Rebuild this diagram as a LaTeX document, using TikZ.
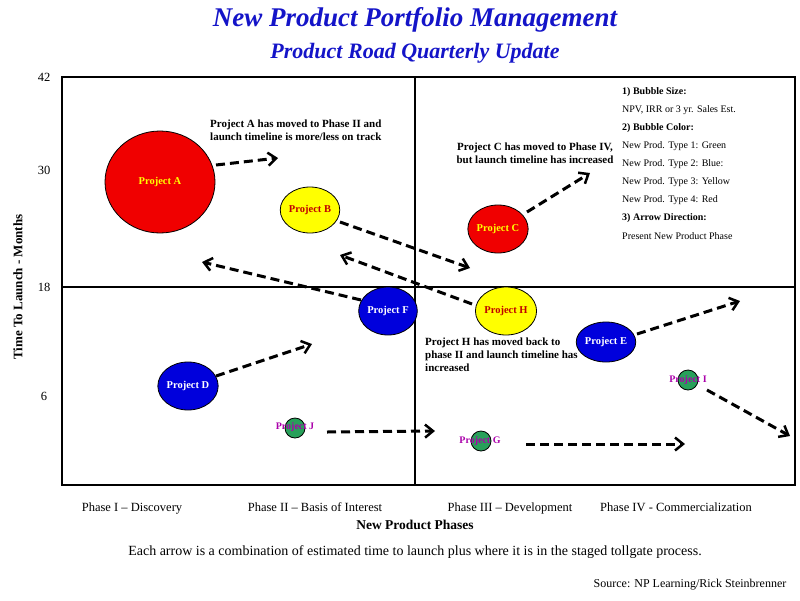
\documentclass[tikz,border=0pt]{standalone}
\usepackage{fontspec}
\setmainfont{Liberation Serif}
\usetikzlibrary{arrows.meta}
\usetikzlibrary{shapes.geometric}
\definecolor{titleblue}{RGB}{20,20,200}
\definecolor{bred}{RGB}{240,0,0}
\definecolor{byellow}{RGB}{255,255,0}
\definecolor{bblue}{RGB}{0,0,220}
\definecolor{bgreen}{RGB}{40,160,90}
\definecolor{lpurple}{RGB}{170,0,170}
\begin{document}
\begin{tikzpicture}[x=1pt,y=-1pt]
  \tikzstyle{bubble} = [ellipse,draw=black,line width=0.8pt,inner sep=0pt,font=\fontsize{10.5}{10.5}\selectfont\bfseries]
  \tikzstyle{move}   = [line width=3pt,dash pattern=on 9pt off 5pt,-{Straight Barb[length=8pt,width=13pt,line width=2.5pt]}]
  \tikzstyle{note}   = [font=\fontsize{11}{13}\selectfont\bfseries,align=left,anchor=north west,inner sep=0pt]
  \tikzstyle{leg}    = [font=\fontsize{10}{10}\selectfont,anchor=west,inner sep=0pt]
  \tikzstyle{tick}   = [font=\fontsize{12.5}{12.5}\selectfont,anchor=base]
  \useasboundingbox (0,0) rectangle (800,600);

  % title
  \node[font=\fontsize{27}{27}\selectfont\bfseries\itshape,text=titleblue] (t1) at (415,20) {New Product Portfolio Management};
  \node[font=\fontsize{22}{22}\selectfont\bfseries\itshape,text=titleblue] (t2) at (415,53) {Product Road Quarterly Update};

  % grid
  \draw[line width=1.6pt] (62,77) rectangle (795,485);
  \draw[line width=1.6pt] (415,77) -- (415,485);
  \draw[line width=1.6pt] (62,287) -- (795,287);

  % axes
  \node[tick,anchor=center] (y42) at (44,77) {42};
  \node[tick,anchor=center] (y30) at (44,170) {30};
  \node[tick,anchor=center] (y18) at (44,287) {18};
  \node[tick,anchor=center] (y6)  at (44,396) {6};
  \node[font=\fontsize{13}{13}\selectfont\bfseries,rotate=90] (ylab) at (18,287) {Time To Launch - Months};
  \node[tick] (p1) at (132,511) {Phase I -- Discovery};
  \node[tick] (p2) at (315,511) {Phase II -- Basis of Interest};
  \node[tick] (p3) at (510,511) {Phase III -- Development};
  \node[tick] (p4) at (676,511) {Phase IV - Commercialization};
  \node[font=\fontsize{13.5}{13.5}\selectfont\bfseries] (xlab) at (415,525) {New Product Phases};
  \node[font=\fontsize{14}{14}\selectfont] (cap) at (415,552) {Each arrow is a combination of estimated time to launch plus where it is in the staged tollgate process.};
  \node[font=\fontsize{12}{12}\selectfont] (src) at (690,585) {Source: NP Learning/Rick Steinbrenner};

  % bubbles
  \node[bubble,fill=bred,text=byellow,minimum width=110pt,minimum height=102pt] (pa) at (160,182) {Project A};
  \node[bubble,fill=byellow,text=bred!80!black,minimum width=54pt,minimum height=46pt] (pb) at (310,210) {Project B};
  \node[bubble,fill=bred,text=byellow,minimum width=52pt,minimum height=48pt] (pc) at (498,229) {Project C};
  \node[bubble,fill=bblue,text=white,minimum width=54pt,minimum height=48pt] (pf) at (388,311) {Project F};
  \node[bubble,fill=byellow,text=bred!80!black,minimum width=54pt,minimum height=48pt] (ph) at (506,311) {Project H};
  \node[bubble,fill=bblue,text=white,minimum width=50pt,minimum height=40pt] (pe) at (606,342) {Project E};
  \node[bubble,fill=bblue,text=white,minimum width=56pt,minimum height=48pt] (pd) at (188,386) {Project D};
  \node[bubble,fill=bgreen,minimum size=20pt] (pi) at (688,380) {};
  \node[bubble,fill=bgreen,minimum size=20pt] (pj) at (295,428) {};
  \node[bubble,fill=bgreen,minimum size=20pt] (pg) at (481,441) {};
  \node[font=\fontsize{10}{10}\selectfont\bfseries,text=lpurple] (li) at (pi) {Project I};
  \node[font=\fontsize{10}{10}\selectfont\bfseries,text=lpurple] (lj) at (295,427) {Project J};
  \node[font=\fontsize{10}{10}\selectfont\bfseries,text=lpurple] (lg) at (480,441) {Project G};

  % arrow ends
  \coordinate (ea) at (278,158);
  \coordinate (ec) at (590,173);
  \coordinate (eb) at (470,268);
  \coordinate (eh) at (340,255);
  \coordinate (ef) at (202,262);
  \coordinate (ed) at (312,344);
  \coordinate (ee) at (740,301);
  \coordinate (ei) at (790,436);
  \coordinate (sj) at (327,432);
  \coordinate (ej) at (435,431);
  \coordinate (sg) at (526,444);
  \coordinate (eg) at (685,444);

  \draw[move] (pa) ++(56,-17) -- (ea);
  \draw[move] (pc) ++(29,-17) -- (ec);
  \draw[move] (pb) ++(30,12) -- (eb);
  \draw[move] (ph) ++(-34,-7) -- (eh);
  \draw[move] (pf) ++(-27,-11) -- (ef);
  \draw[move] (pd) ++(28,-10) -- (ed);
  \draw[move] (pe) ++(31,-8) -- (ee);
  \draw[move] (pi) ++(19,10) -- (ei);
  \draw[move] (sj) -- (ej);
  \draw[move] (sg) -- (eg);

  % notes
  \node[note] (na) at (210,120) {Project A has moved to Phase II and\\launch timeline is more/less on track};
  \node[note,align=center,anchor=north] (nc) at (535,143) {Project C has moved to Phase IV,\\but launch timeline has increased};
  \node[note] (nh) at (425,338) {Project H has moved back to\\phase II and launch timeline has\\increased};

  % legend
  \node[leg,font=\fontsize{10}{10}\selectfont\bfseries] (l1) at (622,92) {1) Bubble Size:};
  \node[leg] (l2) at (622,110) {NPV, IRR or 3 yr. Sales Est.};
  \node[leg,font=\fontsize{10}{10}\selectfont\bfseries] (l3) at (622,128) {2) Bubble Color:};
  \node[leg] (l4) at (622,146) {New Prod. Type 1: Green};
  \node[leg] (l5) at (622,164) {New Prod. Type 2: Blue:};
  \node[leg] (l6) at (622,182) {New Prod. Type 3: Yellow};
  \node[leg] (l7) at (622,200) {New Prod. Type 4: Red};
  \node[leg,font=\fontsize{10}{10}\selectfont\bfseries] (l8) at (622,218) {3) Arrow Direction:};
  \node[leg] (l9) at (622,236) {Present New Product Phase};
\end{tikzpicture}
\end{document}
